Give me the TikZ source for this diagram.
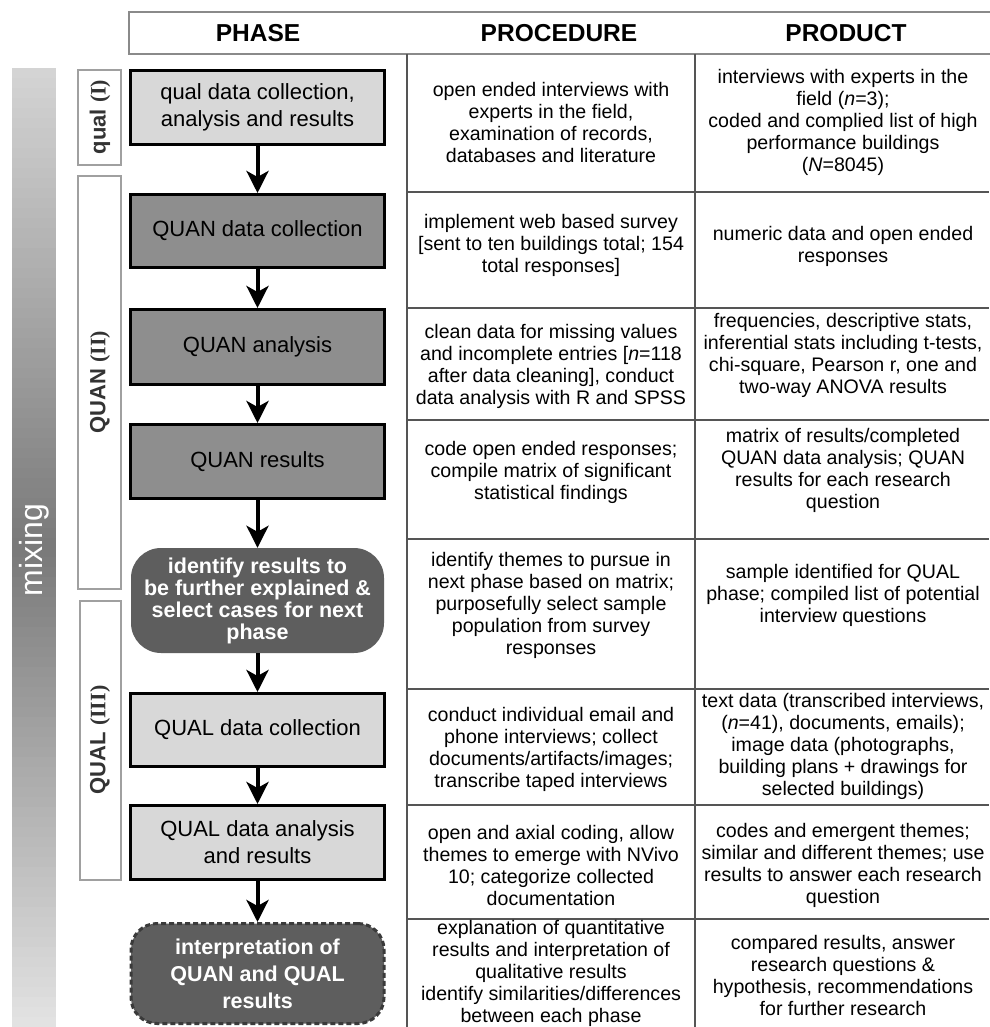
\documentclass[tikz,border=0pt]{standalone}
\usepackage{fontspec}
\setmainfont{Liberation Sans}
\newfontfamily\romfont{Liberation Serif}
\usetikzlibrary{arrows.meta}
\definecolor{lightbox}{HTML}{D8D8D8}
\definecolor{midbox}{HTML}{8E8E8E}
\definecolor{darkbox}{HTML}{5E5E5E}
\definecolor{rulecol}{HTML}{555555}
\definecolor{sidegray}{HTML}{A0A0A0}
\definecolor{labelgray}{HTML}{333333}
\definecolor{headgray}{HTML}{8A8A8A}
\definecolor{dashcol}{HTML}{3A3A3A}
\definecolor{mixtop}{HTML}{D4D4D4}
\definecolor{mixmid}{HTML}{7A7A7A}
\definecolor{mixbot}{HTML}{E2E2E2}
\begin{document}
\begin{tikzpicture}[x=1pt,y=-1pt,
  tabletext/.style={font=\fontsize{19.6}{22}\selectfont, align=center, inner sep=0pt},
  phasebox/.style={draw=black, line width=3pt, minimum width=254pt, align=center, inner sep=0pt, font=\fontsize{22}{27}\selectfont},
  lightphase/.style={phasebox, fill=lightbox},
  midphase/.style={phasebox, fill=midbox},
  roundphase/.style={fill=darkbox, rounded corners=30pt, text=white, font=\bfseries\fontsize{21.5}{22}\selectfont, align=center, minimum width=253pt, inner sep=0pt},
  dashphase/.style={fill=darkbox, draw=dashcol, line width=3pt, dash pattern=on 5pt off 3pt, rounded corners=26pt, text=white, font=\bfseries\fontsize{21.5}{27}\selectfont, align=center, minimum width=253pt, inner sep=0pt},
  flow/.style={line width=4pt, -{Stealth[length=22pt,width=22pt,inset=6pt]}},
  sidebox/.style={draw=sidegray, line width=2pt, fill=white, inner sep=0pt},
  sidelabel/.style={rotate=90, text=labelgray, inner sep=0pt, font=\bfseries\fontsize{22}{26}\selectfont},
  headtext/.style={inner sep=0pt, font=\bfseries\fontsize{24.5}{28}\selectfont},
  rulestyle/.style={draw=rulecol, line width=1.8pt}
]
\useasboundingbox (0,0) rectangle (989,1027);
\fill[white] (0,0) rectangle (989,1027);

% mixing bar (vertical gradient built from strips)
\foreach \i in {0,...,47}{
  \pgfmathsetmacro\pc{100-\i*100/47}
  \fill[mixtop!\pc!mixmid] (12,{68+\i*10}) rectangle (56,{68+\i*10+10.6});
}
\foreach \i in {0,...,47}{
  \pgfmathsetmacro\pc{\i*100/47}
  \fill[mixbot!\pc!mixmid] (12,{547+\i*10}) rectangle (56,{547+\i*10+10.6});
}
\node[rotate=90, text=white, inner sep=0pt, font=\fontsize{32}{36}\selectfont] (mix) at (34,550) {mixing};

% header
\draw[draw=headgray, line width=2pt] (129,12) rectangle (1000,54);
\node[headtext] (hphase) at (258,33) {PHASE};
\node[headtext] (hproc) at (559,33) {PROCEDURE};
\node[headtext] (hprod) at (846,33) {PRODUCT};

% table rules
\draw[rulestyle] (407,54) -- (407,1027);
\draw[rulestyle] (695,54) -- (695,1027);
\foreach \yy in {192,308,420,539,689,805,919}
  \draw[rulestyle] (407,\yy) -- (989,\yy);

% side labels
\node[sidebox, minimum width=43pt, minimum height=95pt] (sq1) at (99.5,117.5) {};
\node[sidebox, minimum width=43pt, minimum height=413pt] (sq2) at (99.5,382.5) {};
\node[sidebox, minimum width=41pt, minimum height=279pt] (sq3) at (100.5,740.5) {};
\node[sidelabel] (lq1) at (100,117) {qual {\romfont(I)}};
\node[sidelabel] (lq2) at (100,382) {QUAN {\romfont(II)}};
\node[sidelabel] (lq3) at (100,740) {QUAL {\romfont(III)}};

% phase column
\node[lightphase, minimum height=74pt] (p1) at (257.5,107.5) {qual data collection,\\analysis and results};
\node[midphase, minimum height=73pt] (p2) at (257.5,231) {QUAN data collection};
\node[midphase, minimum height=75pt] (p3) at (257.5,347) {QUAN analysis};
\node[midphase, minimum height=74pt] (p4) at (257.5,461.5) {QUAN results};
\node[roundphase, minimum height=105pt] (p5) at (257.5,600.5) {identify results to\\be further explained \&\\select cases for next\\phase};
\node[lightphase, minimum height=73pt] (p6) at (257.5,730) {QUAL data collection};
\node[lightphase, minimum height=74pt] (p7) at (257.5,842.5) {QUAL data analysis\\and results};
\node[dashphase, minimum height=100pt] (p8) at (257.5,973.5) {interpretation of\\QUAN and QUAL\\results};

\draw[flow] (p1.south) -- (p2.north);
\draw[flow] (p2.south) -- (p3.north);
\draw[flow] (p3.south) -- (p4.north);
\draw[flow] (p4.south) -- (p5.north);
\draw[flow] (p5.south) -- (p6.north);
\draw[flow] (p6.south) -- (p7.north);
\draw[flow] (p7.south) -- (p8.north);

% procedure column
\node[tabletext] (r1p) at (551,122) {open ended interviews with\\experts in the field,\\examination of records,\\databases and literature};
\node[tabletext] (r2p) at (551,245) {implement web based survey\\{[}sent to ten buildings total; 154\\total responses{]}};
\node[tabletext] (r3p) at (551,366) {clean data for missing values\\and incomplete entries {[}\textit{n}=118\\after data cleaning{]}, conduct\\data analysis with R and SPSS};
\node[tabletext] (r4p) at (551,472) {code open ended responses;\\compile matrix of significant\\statistical findings};
\node[tabletext] (r5p) at (551,605) {identify themes to pursue in\\next phase based on matrix;\\purposefully select sample\\population from survey\\responses};
\node[tabletext] (r6p) at (551,749) {conduct individual email and\\phone interviews; collect\\documents/artifacts/images;\\transcribe taped interviews};
\node[tabletext] (r7p) at (551,865) {open and axial coding, allow\\themes to emerge with NVivo\\10; categorize collected\\documentation};
\node[tabletext] (r8p) at (551,973) {explanation of quantitative\\results and interpretation of\\qualitative results\\identify similarities/differences\\between each phase};

% product column
\node[tabletext] (r1q) at (843,122) {interviews with experts in the\\field (\textit{n}=3);\\coded and complied list of high\\performance buildings\\(\textit{N}=8045)};
\node[tabletext] (r2q) at (843,246) {numeric data and open ended\\responses};
\node[tabletext] (r3q) at (843,355) {frequencies, descriptive stats,\\inferential stats including t-tests,\\chi-square, Pearson r, one and\\two-way ANOVA results};
\node[tabletext] (r4q) at (843,470) {matrix of results/completed\\QUAN data analysis; QUAN\\results for each research\\question};
\node[tabletext] (r5q) at (843,595) {sample identified for QUAL\\phase; compiled list of potential\\interview questions};
\node[tabletext] (r6q) at (843,746) {text data (transcribed interviews,\\(\textit{n}=41), documents, emails);\\image data (photographs,\\building plans + drawings for\\selected buildings)};
\node[tabletext] (r7q) at (843,865) {codes and emergent themes;\\similar and different themes; use\\results to answer each research\\question};
\node[tabletext] (r8q) at (843,975) {compared results, answer\\research questions \&\\hypothesis, recommendations\\for further research};
\end{tikzpicture}
\end{document}
